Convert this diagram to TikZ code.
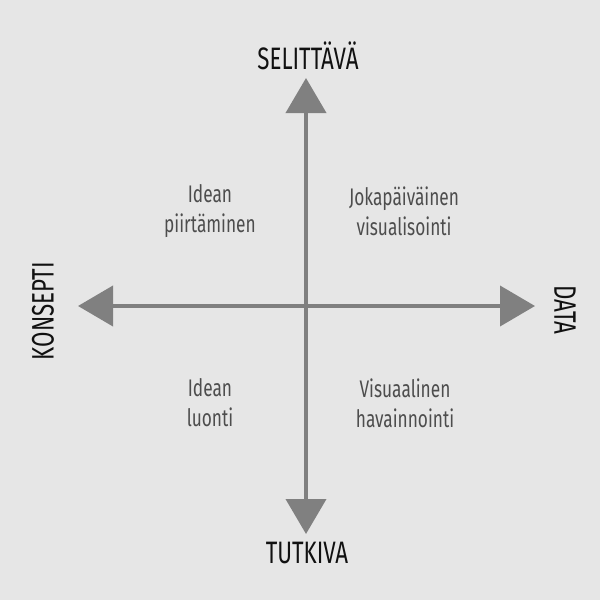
\documentclass[tikz,border=0pt]{standalone}
\usepackage{fontspec}
\setmainfont[FakeStretch=0.72]{Fira Sans}
\usetikzlibrary{arrows.meta}
\definecolor{bg}{HTML}{E6E6E6}
\definecolor{axis}{HTML}{808080}
\definecolor{qtext}{HTML}{4D4D4D}
\definecolor{ttext}{HTML}{111111}
\begin{document}
\begin{tikzpicture}[x=1pt,y=-1pt,
  axisline/.style={draw=axis,line width=4pt,-{Triangle[length=35pt,width=40pt]}},
  title/.style={text=ttext,font=\fontsize{31}{33}\selectfont,inner sep=0pt},
  quad/.style={text=qtext,font=\fontsize{24}{30}\selectfont,align=center,inner sep=0pt}]
\fill[bg] (0,0) rectangle (600,600);
\useasboundingbox (0,0) rectangle (600,600);
\coordinate (c) at (306,306);
\coordinate (tN) at (306,78);
\coordinate (tS) at (306,534);
\coordinate (tW) at (78,306);
\coordinate (tE) at (535,306);
\draw[axisline] (c) -- (tN);
\draw[axisline] (c) -- (tS);
\draw[axisline] (c) -- (tW);
\draw[axisline] (c) -- (tE);
\node[title] (n) at (308,56) {SELITTÄVÄ};
\node[title] (s) at (307,553) {TUTKIVA};
\node[title,rotate=90] (w) at (43,311) {KONSEPTI};
\node[title,rotate=-90] (e) at (565,310) {DATA};
\node[quad] (q1) at (210,211) {Idean\\piirtäminen};
\node[quad] (q2) at (404,211) {Jokapäiväinen\\visualisointi};
\node[quad] (q3) at (210,403) {Idean\\luonti};
\node[quad] (q4) at (405,403) {Visuaalinen\\havainnointi};
\end{tikzpicture}
\end{document}
